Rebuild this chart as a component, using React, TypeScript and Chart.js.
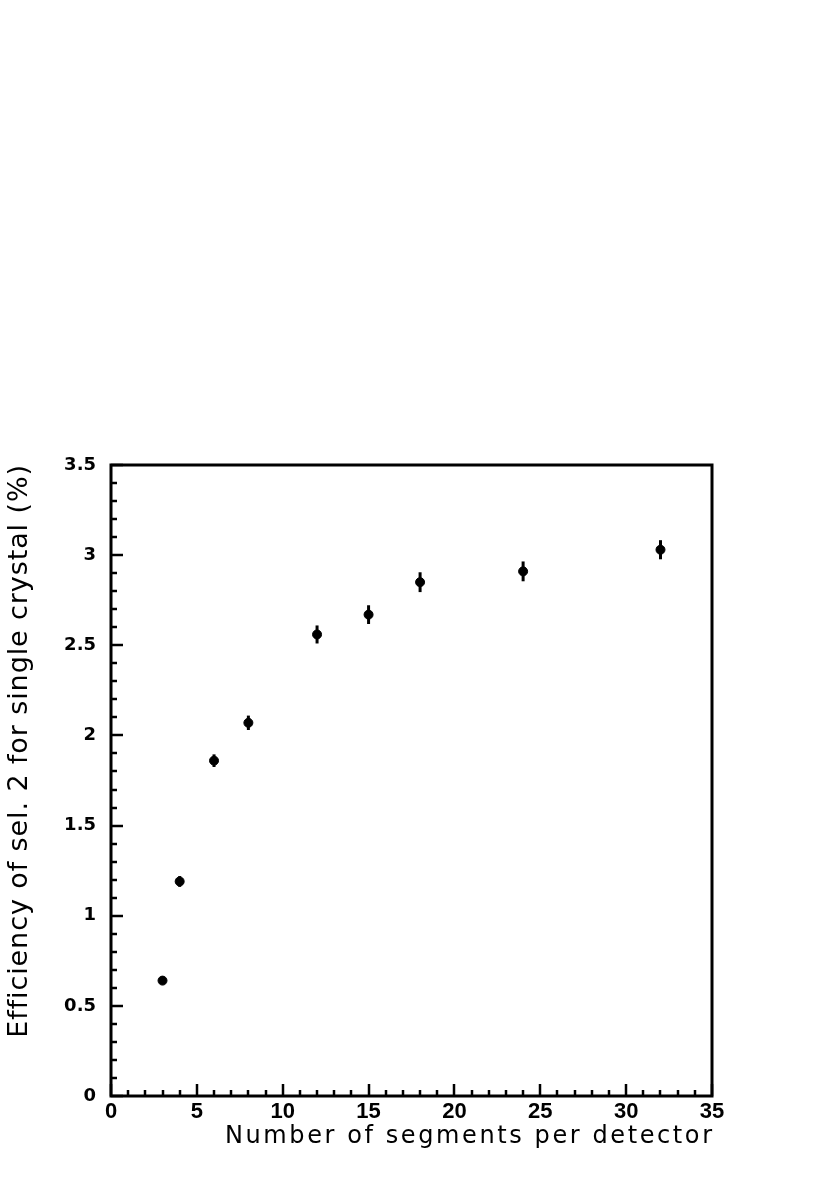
import React, { useEffect, useRef } from "react";
import { Chart, registerables } from "chart.js";

Chart.register(...registerables);

const segments = [3, 4, 6, 8, 12, 15, 18, 24, 32];
const efficiency = [0.64, 1.19, 1.86, 2.07, 2.56, 2.67, 2.85, 2.91, 3.03];
const errors = [0.015, 0.03, 0.035, 0.04, 0.05, 0.052, 0.055, 0.055, 0.053];
const xTitle = "Number of segments per detector";
const yTitle = "Efficiency of sel. 2 for single crystal (%)";

function drawSpaced(ctx: any, text: string, endX: number, baseY: number, font: string, spacing: number) {
  ctx.font = font;
  ctx.letterSpacing = spacing + "px";
  ctx.textAlign = "left";
  ctx.textBaseline = "alphabetic";
  const w = ctx.measureText(text).width;
  ctx.fillText(text, endX - w + spacing, baseY);
  ctx.letterSpacing = "0px";
}

const framePlugin = {
  id: "frameTicks",
  afterDatasetsDraw(chart: any) {
    const ctx = chart.ctx;
    const { left, right, top, bottom } = chart.chartArea;
    const xs = chart.scales.x;
    const ys = chart.scales.y;
    ctx.save();
    ctx.strokeStyle = "#000";
    ctx.fillStyle = "#000";
    // error bars
    ctx.lineWidth = 3;
    const ds = chart.data.datasets[0];
    ds.data.forEach((p: any, i: number) => {
      const px = xs.getPixelForValue(p.x);
      const e = errors[i];
      ctx.beginPath();
      ctx.moveTo(px, ys.getPixelForValue(p.y - e));
      ctx.lineTo(px, ys.getPixelForValue(p.y + e));
      ctx.stroke();
    });
    // ticks
    ctx.lineWidth = 2.5;
    for (let v = 0; v <= 35; v += 1) {
      const px = Math.round(xs.getPixelForValue(v));
      const len = v % 5 === 0 ? 12 : 6;
      ctx.beginPath();
      ctx.moveTo(px, bottom);
      ctx.lineTo(px, bottom - len);
      ctx.stroke();
    }
    for (let k = 0; k <= 35; k += 1) {
      const v = k / 10;
      const py = Math.round(ys.getPixelForValue(v));
      const len = k % 5 === 0 ? 12 : 6;
      ctx.beginPath();
      ctx.moveTo(left, py);
      ctx.lineTo(left + len, py);
      ctx.stroke();
    }
    // frame
    ctx.lineWidth = 3;
    ctx.strokeRect(left, top, right - left, bottom - top);

    // axis titles
    drawSpaced(ctx, xTitle, right, bottom + 47, "24px 'DejaVu Sans'", 2.6);
    ctx.save();
    ctx.translate(27, top);
    ctx.rotate(-Math.PI / 2);
    drawSpaced(ctx, yTitle, 0, 0, "27px 'DejaVu Sans'", 0.9);
    ctx.restore();
    ctx.restore();
  },
};

export default function App() {
  const ref = useRef<HTMLCanvasElement | null>(null);
  useEffect(() => {
    if (!ref.current) return;
    const chart = new Chart(ref.current, {
      type: "scatter",
      data: {
        datasets: [
          {
            data: segments.map((s, i) => ({ x: s, y: efficiency[i] })),
            backgroundColor: "#000",
            borderColor: "#000",
            pointRadius: 4.5,
            pointHoverRadius: 4.5,
          },
        ],
      },
      options: {
        animation: false,
        responsive: false,
        events: [],
        layout: { padding: { top: 465, right: 118, left: 0, bottom: 0 } },
        plugins: { legend: { display: false }, tooltip: { enabled: false } },
        scales: {
          x: {
            type: "linear",
            min: 0,
            max: 35,
            afterFit: (s: any) => {
              s.height = 81;
            },
            grid: { display: false, drawTicks: false },
            border: { display: false },
            ticks: {
              stepSize: 5,
              padding: 3,
              color: "#000",
              maxRotation: 0,
              font: { family: "Liberation Sans", weight: "bold", size: 22 },
            },
          },
          y: {
            type: "linear",
            min: 0,
            max: 3.5,
            afterFit: (s: any) => {
              s.width = 111;
            },
            grid: { display: false, drawTicks: false },
            border: { display: false },
            ticks: {
              stepSize: 0.5,
              padding: 15,
              color: "#000",
              font: { family: "DejaVu Sans", weight: "bold", size: 18 },
              callback: (v: any) => String(v),
            },
          },
        },
      },
      plugins: [framePlugin],
    });
    return () => chart.destroy();
  }, []);
  return (
    <div style={{ position: "absolute", left: 0, top: 0, width: 830, height: 1177, background: "#fff" }}>
      <canvas ref={ref} width={830} height={1177} style={{ width: 830, height: 1177 }} />
    </div>
  );
}
